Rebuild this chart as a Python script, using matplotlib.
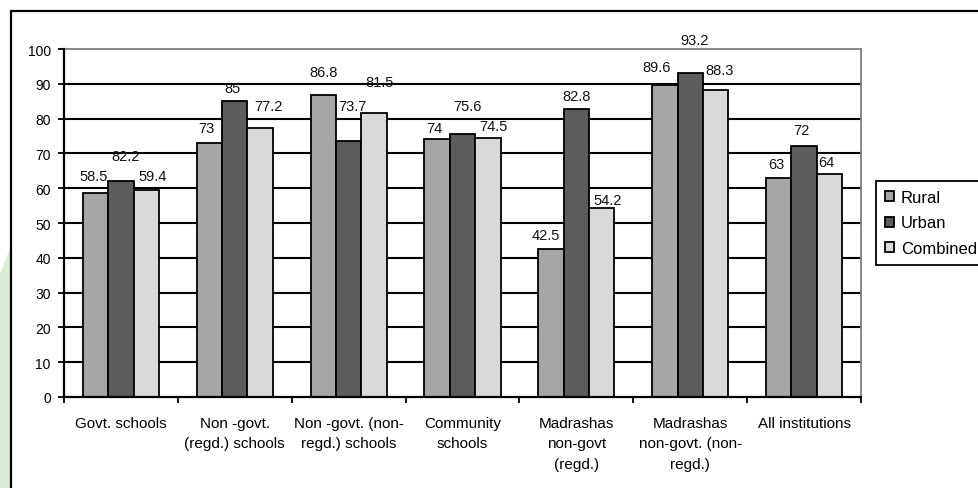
import matplotlib
matplotlib.use("Agg")
import matplotlib.pyplot as plt
from matplotlib.patches import Rectangle, Polygon
import numpy as np

plt.rcParams['font.family'] = ['Liberation Sans', 'DejaVu Sans']

categories = ["Govt. schools", "Non -govt.\n(regd.) schools", "Non -govt. (non-\nregd.) schools",
              "Community\nschools", "Madrashas\nnon-govt\n(regd.)", "Madrashas\nnon-govt. (non-\nregd.)",
              "All institutions"]
series = ["Rural", "Urban", "Combined"]
rural = [58.5, 73, 86.8, 74, 42.5, 89.6, 63]
urban = [62.2, 85, 73.7, 75.6, 82.8, 93.2, 72]
combined = [59.4, 77.2, 81.5, 74.5, 54.2, 88.3, 64]
# data-label texts as printed on the chart
rural_labels = ["58.5", "73", "86.8", "74", "42.5", "89.6", "63"]
urban_labels = ["82.2", "85", "73.7", "75.6", "82.8", "93.2", "72"]
combined_labels = ["59.4", "77.2", "81.5", "74.5", "54.2", "88.3", "64"]
yticks = [0, 10, 20, 30, 40, 50, 60, 70, 80, 90, 100]

# layout: label nudges (dx in px, dy in data units), per series
label_dx = [[-2, -3, 0, -3, -5, -8, -2],
            [5, -2, 4, 5, 0, 4, -3],
            [6, 8, 6, 6, 6, 4, -3]]
label_dy = [[5.0, 4.3, 6.6, 3.3, 4.1, 5.2, 4.0],
            [7.1, 3.8, 9.9, 8.0, 3.7, 9.4, 4.7],
            [4.1, 6.4, 9.0, 3.4, 2.4, 5.7, 3.5]]

colors = ["#a6a6a6", "#5c5c5c", "#d9d9d9"]

W, H = 979, 489
fig = plt.figure(figsize=(W / 100, H / 100), dpi=100)
fig.patch.set_facecolor("white")

# faint watermark at left edge
fig.patches.append(Polygon([(0, 0), (10 / W, 0), (10 / W, 1 - 250 / H), (0, 1 - 275 / H)],
                           closed=True, transform=fig.transFigure, facecolor="#dcebd6",
                           edgecolor="none", zorder=0))
# outer chart border
fig.patches.append(Rectangle((11 / W, -0.1), 1.2, 1 - 12 / H + 0.1, transform=fig.transFigure,
                             facecolor="none", edgecolor="black", linewidth=1.6, zorder=1))

ax = fig.add_axes([64 / W, 1 - 398 / H, (861 - 64) / W, (398 - 50) / H])
x = np.arange(len(categories))
bw = 0.223
all_vals = [rural, urban, combined]
all_labels = [rural_labels, urban_labels, combined_labels]
bars = []
for s, (vals, col) in enumerate(zip(all_vals, colors)):
    b = ax.bar(x + (s - 1) * bw, vals, width=bw, color=col, edgecolor="black",
               linewidth=1.3, zorder=3, label=series[s])
    bars.append(b)
    for i, v in enumerate(vals):
        ax.annotate(all_labels[s][i], xy=(x[i] + (s - 1) * bw, v + label_dy[s][i]),
                    xytext=(label_dx[s][i], 0), textcoords="offset pixels",
                    ha="center", va="center", fontsize=10.5, color="#111111", zorder=5,
                    annotation_clip=False)

ax.set_xlim(-0.5, len(categories) - 0.5)
ax.set_ylim(0, 100)
ax.set_yticks(yticks)
ax.set_yticklabels([str(t) for t in yticks], fontsize=10)
for t in yticks[1:-1]:
    ax.axhline(t, color="black", linewidth=1.5, zorder=1)

ax.set_xticks(np.arange(-0.5, len(categories), 1.0))
ax.set_xticklabels([])
ax.set_xticks(x, minor=True)
ax.set_xticklabels(categories, minor=True, fontsize=11, linespacing=1.55, va="top")
ax.tick_params(axis="x", which="major", direction="out", length=4, width=1.3)
ax.tick_params(axis="x", which="minor", length=0, pad=14)
ax.tick_params(axis="y", direction="out", length=4, width=1.3, pad=5.5)

for side in ["left", "bottom"]:
    ax.spines[side].set_color("black")
    ax.spines[side].set_linewidth(1.6)
for side in ["top", "right"]:
    ax.spines[side].set_color("#808080")
    ax.spines[side].set_linewidth(1.3)
ax.spines["left"].set_zorder(4)
ax.spines["bottom"].set_zorder(4)

leg = fig.legend(handles=bars, labels=series, loc="upper left",
                 bbox_to_anchor=(876 / W, 1 - 182 / H), fontsize=12,
                 frameon=True, fancybox=False, edgecolor="black", framealpha=1,
                 handlelength=0.55, handleheight=0.55, handletextpad=0.4,
                 labelspacing=0.62, borderpad=0.55, borderaxespad=0)
leg.get_frame().set_linewidth(1.3)

fig.savefig("out.png", dpi=100)
